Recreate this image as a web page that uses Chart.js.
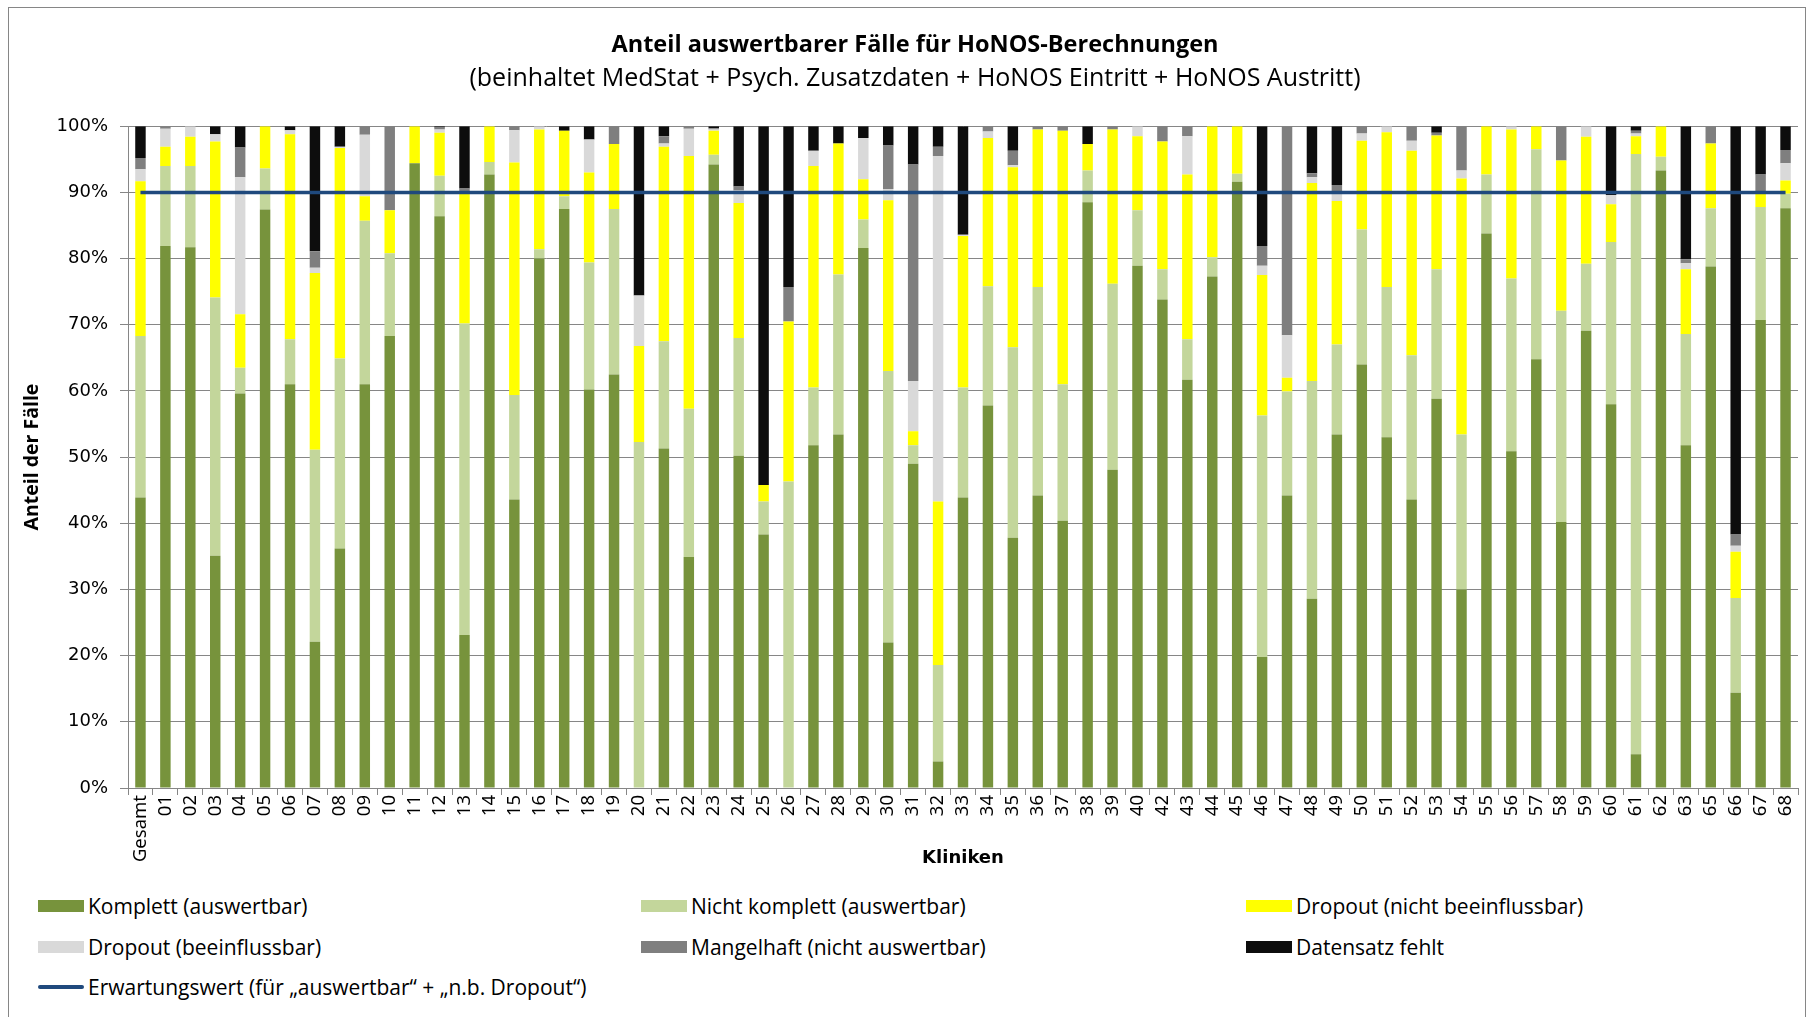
<!DOCTYPE html>
<html lang="de">
<head>
<meta charset="utf-8">
<title>Anteil auswertbarer Fälle für HoNOS-Berechnungen</title>
<script src="https://cdn.jsdelivr.net/npm/chart.js@4.4.1/dist/chart.umd.min.js"></script>
<style>
    html, body { margin: 0; padding: 0; background: #fff; }
    #wrap { position: relative; width: 1816px; height: 1017px; overflow: hidden; background: #fff; }
    #frame { position: absolute; left: 8px; top: 7px; width: 1796px; height: 1100px; border: 1px solid #868686; }
    #chartBox { position: absolute; left: 0; top: 0; width: 1816px; height: 880px; }
    .lg-item { position: absolute; display: flex; align-items: center; font-family: "Open Sans", sans-serif; font-size: 21px; color: #000; white-space: nowrap; }
    .lg-box { width: 46px; height: 12px; margin-right: 4px; }
    .lg-line { width: 46px; height: 4px; margin-right: 4px; border-radius: 2px; }
</style>
</head>
<body>
<div id="wrap">
    <div id="frame"></div>
    <div id="chartBox"><canvas id="honosChart"></canvas></div>
    <div id="legend"></div>
</div>
<script>
// Kategorien (Kliniken)
const kliniken = ['Gesamt', '01', '02', '03', '04', '05', '06', '07', '08', '09', '10',
    '11', '12', '13', '14', '15', '16', '17', '18', '19', '20',
    '21', '22', '23', '24', '25', '26', '27', '28', '29', '30',
    '31', '32', '33', '34', '35', '36', '37', '38', '39', '40',
    '42', '43', '44', '45', '46', '47', '48', '49', '50',
    '51', '52', '53', '54', '55', '56', '57', '58', '59', '60',
    '61', '62', '63', '65', '66', '67', '68'];

// Anteile in Prozent, von unten nach oben gestapelt
const komplett = [43.9, 81.9, 81.7, 35.1, 59.6, 87.4, 61.0, 22.1, 36.2, 61.0, 68.3,
    94.4, 86.4, 23.1, 92.7, 43.6, 80.0, 87.5, 60.2, 62.5, 0,
    51.3, 34.9, 94.2, 50.2, 38.3, 0, 51.8, 53.4, 81.6, 22.0,
    49.0, 4.0, 43.9, 57.8, 37.8, 44.2, 40.4, 88.5, 48.1, 78.9,
    73.8, 61.7, 77.3, 91.6, 19.8, 44.2, 28.6, 53.4, 64.0,
    53.0, 43.6, 58.8, 30.0, 83.8, 50.9, 64.8, 40.2, 69.1, 58.0,
    5.1, 93.3, 51.8, 78.8, 14.4, 70.7, 87.6];

const nichtKomplett = [24.4, 12.1, 12.3, 39.0, 3.9, 6.2, 6.8, 29.0, 28.7, 24.7, 12.5,
    0, 6.1, 47.1, 1.9, 15.8, 1.4, 1.9, 19.2, 25.0, 52.3,
    16.2, 22.4, 1.5, 17.8, 5.0, 46.3, 8.7, 24.2, 4.3, 41.0,
    2.8, 14.6, 16.6, 18.0, 28.8, 31.5, 20.6, 4.8, 28.1, 8.4,
    4.6, 6.1, 2.9, 1.2, 36.5, 15.7, 32.9, 13.6, 20.4,
    22.7, 21.8, 19.6, 23.4, 8.9, 26.1, 31.7, 31.9, 10.1, 24.5,
    90.7, 2.1, 16.8, 8.8, 14.3, 17.1, 2.2];

const dropoutNichtBeeinflussbar = [23.4, 2.9, 4.4, 23.6, 8.1, 6.4, 31.0, 26.7, 31.8, 3.7, 6.5,
    5.6, 6.5, 19.9, 5.4, 35.1, 18.1, 9.9, 13.6, 9.8, 14.5,
    29.4, 38.2, 3.6, 20.4, 2.5, 24.2, 33.5, 19.8, 6.1, 25.8,
    2.1, 24.7, 22.9, 22.4, 27.2, 23.8, 38.3, 4.0, 23.3, 11.2,
    19.3, 24.9, 19.8, 7.2, 21.2, 2.1, 29.9, 21.7, 13.4,
    23.4, 30.9, 20.2, 38.7, 7.3, 22.5, 3.5, 22.7, 19.2, 5.7,
    2.7, 4.6, 9.8, 9.8, 7.0, 2.3, 2.0];

const dropoutBeeinflussbar = [1.8, 2.7, 1.6, 1.1, 20.7, 0, 0.6, 0.8, 0.2, 9.3, 0,
    0, 0.5, 0, 0, 4.9, 0.5, 0, 5.0, 0, 7.6,
    0.5, 4.1, 0.2, 1.9, 0, 0, 2.3, 0, 6.2, 1.7,
    7.6, 52.2, 0.2, 1.0, 0.3, 0, 0, 0, 0, 1.5,
    0, 5.8, 0, 0, 1.4, 6.4, 0.9, 1.5, 1.1,
    0.9, 1.5, 0, 1.2, 0, 0.5, 0, 0, 1.6, 1.4,
    0.4, 0, 0.9, 0, 0.9, 0, 2.6];

const mangelhaft = [1.7, 0.4, 0, 0, 4.5, 0, 0, 2.5, 0, 1.3, 12.7,
    0, 0.3, 0.5, 0, 0.6, 0, 0, 0, 2.7, 0,
    1.1, 0.4, 0.2, 0.6, 0, 5.2, 0, 0, 0, 6.6,
    32.7, 1.4, 0, 0.8, 2.2, 0.5, 0.7, 0, 0.5, 0,
    2.3, 1.5, 0, 0, 3.0, 31.6, 0.6, 0.9, 1.1,
    0, 2.2, 0.4, 6.7, 0, 0, 0, 5.2, 0, 0,
    0.4, 0, 0.6, 2.6, 1.7, 2.6, 2.0];

const datensatzFehlt = [4.8, 0, 0, 1.2, 3.2, 0, 0.6, 18.9, 3.1, 0, 0,
    0, 0.2, 9.4, 0, 0, 0, 0.7, 2.0, 0, 25.6,
    1.5, 0, 0.3, 9.1, 54.2, 24.3, 3.7, 2.6, 1.8, 2.9,
    5.8, 3.1, 16.4, 0, 3.7, 0, 0, 2.7, 0, 0,
    0, 0, 0, 0, 18.1, 0, 7.1, 8.9, 0,
    0, 0, 1.0, 0, 0, 0, 0, 0, 0, 10.4,
    0.7, 0, 20.1, 0, 61.7, 7.3, 3.6];

// Erwartungswert (für auswertbar + n.b. Dropout)
const erwartungswert = 90;

const yTicks = [0, 10, 20, 30, 40, 50, 60, 70, 80, 90, 100];

const gridColor = '#868686';

const barSeries = [
    { label: 'Komplett (auswertbar)', data: komplett, color: '#77933C' },
    { label: 'Nicht komplett (auswertbar)', data: nichtKomplett, color: '#C3D69B' },
    { label: 'Dropout (nicht beeinflussbar)', data: dropoutNichtBeeinflussbar, color: '#FFFF00' },
    { label: 'Dropout (beeinflussbar)', data: dropoutBeeinflussbar, color: '#D9D9D9' },
    { label: 'Mangelhaft (nicht auswertbar)', data: mangelhaft, color: '#7F7F7F' },
    { label: 'Datensatz fehlt', data: datensatzFehlt, color: '#0D0D0D' }
];
const lineLabel = 'Erwartungswert (für \u201Eauswertbar\u201C + \u201En.b. Dropout\u201C)';
const lineColor = '#1F497D';

const datasets = barSeries.map(s => ({
    type: 'bar',
    label: s.label,
    data: s.data,
    backgroundColor: s.color,
    borderWidth: 0,
    stack: 'faelle',
    order: 1,
    categoryPercentage: 1.0,
    barPercentage: 0.42
}));

datasets.push({
    type: 'line',
    label: lineLabel,
    data: kliniken.map(() => erwartungswert),
    borderColor: lineColor,
    borderWidth: 3.5,
    pointRadius: 0,
    fill: false,
    stack: 'erwartung',
    order: 0
});

const ctx = document.getElementById('honosChart').getContext('2d');
window.honosChart = new Chart(ctx, {
    type: 'bar',
    data: { labels: kliniken, datasets: datasets },
    options: {
        responsive: true,
        maintainAspectRatio: false,
        animation: false,
        // links etwas mehr Rand, damit der Titel wie im Original leicht rechts der Mitte sitzt
        layout: { padding: { left: 32, right: 18, top: 0, bottom: 0 } },
        plugins: {
            legend: { display: false },
            tooltip: { enabled: false },
            title: {
                display: true,
                text: 'Anteil auswertbarer Fälle für HoNOS-Berechnungen',
                color: '#000',
                font: { family: 'Open Sans', size: 23.5, weight: 'bold' },
                padding: { top: 31, bottom: 5 }
            },
            subtitle: {
                display: true,
                text: '(beinhaltet MedStat + Psych. Zusatzdaten + HoNOS Eintritt + HoNOS Austritt)',
                color: '#000',
                font: { family: 'Open Sans', size: 25 },
                padding: { top: 0, bottom: 32 }
            }
        },
        scales: {
            x: {
                stacked: true,
                offset: true,
                afterFit: function(scale) { scale.height = 92; },
                grid: {
                    drawOnChartArea: false,
                    drawTicks: true,
                    tickLength: 7,
                    color: gridColor,
                    offset: true
                },
                border: { display: true, color: gridColor, width: 1 },
                ticks: {
                    autoSkip: false,
                    minRotation: 90,
                    maxRotation: 90,
                    padding: 0,
                    color: '#000',
                    font: { family: 'Noto Sans', size: 18.5 }
                },
                title: {
                    display: true,
                    text: 'Kliniken',
                    color: '#000',
                    font: { family: 'DejaVu Sans', size: 18, weight: 'bold' },
                    padding: { top: 0, bottom: 11 }
                }
            },
            y: {
                stacked: true,
                min: 0,
                max: 100,
                afterFit: function(scale) { scale.width = 96; },
                afterBuildTicks: function(scale) {
                    scale.ticks = yTicks.map(v => ({ value: v }));
                },
                grid: { color: gridColor, tickLength: 8, lineWidth: 1 },
                border: { display: true, color: gridColor, width: 1 },
                ticks: {
                    padding: 12,
                    color: '#000',
                    font: { family: 'DejaVu Sans', size: 18 },
                    callback: function(value) { return value + '%'; }
                },
                title: {
                    display: true,
                    text: 'Anteil der Fälle',
                    color: '#000',
                    font: { family: 'Open Sans', size: 19.5, weight: 'bold' },
                    padding: { top: -11, bottom: 0 }
                }
            }
        }
    }
});

// Legende in drei Spalten
const legendCols = [38, 641, 1246];
const legendRows = [906, 947, 987];
const legendEl = document.getElementById('legend');
const legendEntries = barSeries.map(s => ({ label: s.label, color: s.color, line: false }));
legendEntries.push({ label: lineLabel, color: lineColor, line: true });

legendEntries.forEach((entry, i) => {
    const item = document.createElement('div');
    item.className = 'lg-item';
    item.style.left = legendCols[i % 3] + 'px';
    item.style.top = (legendRows[Math.floor(i / 3)] - 15) + 'px';
    item.style.height = '30px';
    const mark = document.createElement('span');
    mark.className = entry.line ? 'lg-line' : 'lg-box';
    mark.style.background = entry.color;
    const text = document.createElement('span');
    text.textContent = entry.label;
    item.appendChild(mark);
    item.appendChild(text);
    legendEl.appendChild(item);
});
</script>
</body>
</html>
